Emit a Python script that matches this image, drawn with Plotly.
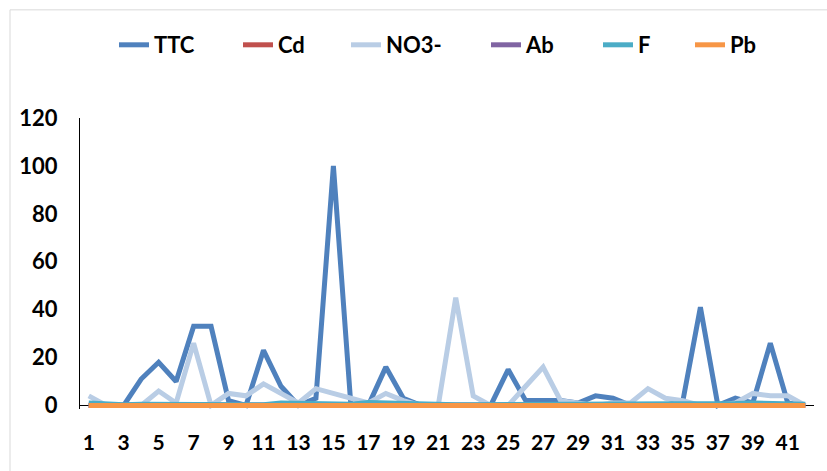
import plotly.graph_objects as go

samples = list(range(1, 43))
x_tick_labels = [str(v) for v in range(1, 42, 2)]
y_tick_values = [0, 20, 40, 60, 80, 100, 120]

ttc = [0, 0, 0, 11, 18, 10, 33, 33, 2, 0, 23, 8, 0, 3, 100, 0, 0, 16, 3, 0, 0,
       0, 0, 0, 15, 2, 2, 2, 1, 4, 3, 0, 0, 0, 2, 41, 0, 3, 1, 26, 1, 0]
cd = [0.02, 0.01, 0.01, 0.02, 0.01, 0.02, 0.01, 0.01, 0.02, 0.01, 0.01, 0.02, 0.01, 0.01,
      0.02, 0.01, 0.01, 0.02, 0.01, 0.01, 0.01, 0.02, 0.01, 0.01, 0.02, 0.01, 0.01, 0.01,
      0.02, 0.01, 0.01, 0.02, 0.01, 0.01, 0.01, 0.02, 0.01, 0.01, 0.02, 0.01, 0.01, 0.01]
no3 = [4, 0, 0, 0, 6, 1, 26, 0, 5, 4, 9, 5, 1, 7, 5, 3, 1, 5, 2, 0, 0,
       45, 4, 0, 0, 8, 16, 2, 1, 0, 1, 1, 7, 3, 2, 0, 0, 1, 5, 4, 4, 0]
ab = [0.1, 0.1, 0.1, 0.1, 0.1, 0.1, 0.1, 0.1, 0.1, 0.1, 0.1, 0.1, 0.1, 0.1,
      0.1, 0.1, 0.1, 0.1, 0.1, 0.1, 0.1, 0.1, 0.1, 0.1, 0.1, 0.1, 0.1, 0.1,
      0.1, 0.1, 0.1, 0.1, 0.1, 0.1, 0.1, 0.1, 0.1, 0.1, 0.1, 0.1, 0.1, 0.1]
f = [1, 0.5, 0.3, 0.5, 0.5, 0.8, 0.5, 0.3, 0.5, 0.5, 0.3, 1, 0.8, 0.5, 0.5, 0.5,
     1.2, 1, 0.8, 0.3, 0.3, 0.3, 0.3, 0.3, 0.5, 0.8, 0.8, 0.5, 0.5, 0.5, 0.5, 0.5,
     0.5, 0.8, 0.5, 0.8, 0.5, 0.8, 1, 1, 1, 0.5]
pb = [0, 0, 0, 0, 0, 0, 0, 0, 0, 0, 0, 0, 0, 0, 0, 0, 0, 0, 0, 0, 0,
      0, 0, 0, 0, 0, 0, 0, 0, 0, 0, 0, 0, 0, 0, 0, 0, 0, 0, 0, 0, 0]

series_names = ["TTC", "Cd", "NO3-", "Ab", "F", "Pb"]
series_values = [ttc, cd, no3, ab, f, pb]
series_colors = ["#4f81bd", "#c0504d", "#b9cde5", "#8064a2", "#4bacc6", "#f79646"]
legend_text_px = [156, 280, 388, 528, 640, 732]

FONT = "Lato"
W, H = 827, 471

fig = go.Figure()
for i, (name, vals, col) in enumerate(zip(series_names, series_values, series_colors)):
    fig.add_trace(go.Scatter(
        x=samples, y=vals, name=name, mode="lines",
        line=dict(color=col, width=5),
        legend="legend" if i == 0 else f"legend{i+1}",
    ))

legend_common = dict(
    orientation="h", xref="container", yref="container",
    xanchor="left", yanchor="middle", y=1 - 45 / H,
    font=dict(family=FONT, size=22, color="black", weight="bold"),
    bgcolor="rgba(0,0,0,0)", borderwidth=0,
)
layout_legends = {}
for i, px in enumerate(legend_text_px):
    key = "legend" if i == 0 else f"legend{i+1}"
    layout_legends[key] = dict(legend_common, x=(px - 42) / W)

fig.update_layout(
    width=W, height=H,
    margin=dict(l=80, r=13, t=118, b=62),
    paper_bgcolor="white", plot_bgcolor="white",
    showlegend=True,
    **layout_legends,
    xaxis=dict(
        range=[0.5, 42.5], tickmode="array",
        tickvals=[int(t) for t in x_tick_labels], ticktext=x_tick_labels,
        showgrid=False, showline=False, zeroline=False, ticks="",
        ticklabelstandoff=19,
        tickfont=dict(family=FONT, size=21, color="black", weight="bold"),
    ),
    yaxis=dict(
        range=[-1.5, 120], tickmode="array", tickvals=y_tick_values,
        showgrid=False, showline=True, linecolor="black", linewidth=1,
        zeroline=True, zerolinecolor="black", zerolinewidth=1,
        ticks="", ticklabelstandoff=17,
        tickfont=dict(family=FONT, size=22, color="black", weight="bold"),
    ),
    shapes=[dict(
        type="rect", xref="paper", yref="paper",
        x0=(10 - 80) / 734, x1=1.5, y0=-1.0, y1=(408.6 - 10) / 290.6,
        line=dict(color="#d9d9d9", width=1), fillcolor="rgba(0,0,0,0)", layer="below",
    )],
)

fig.write_html("out.html")
